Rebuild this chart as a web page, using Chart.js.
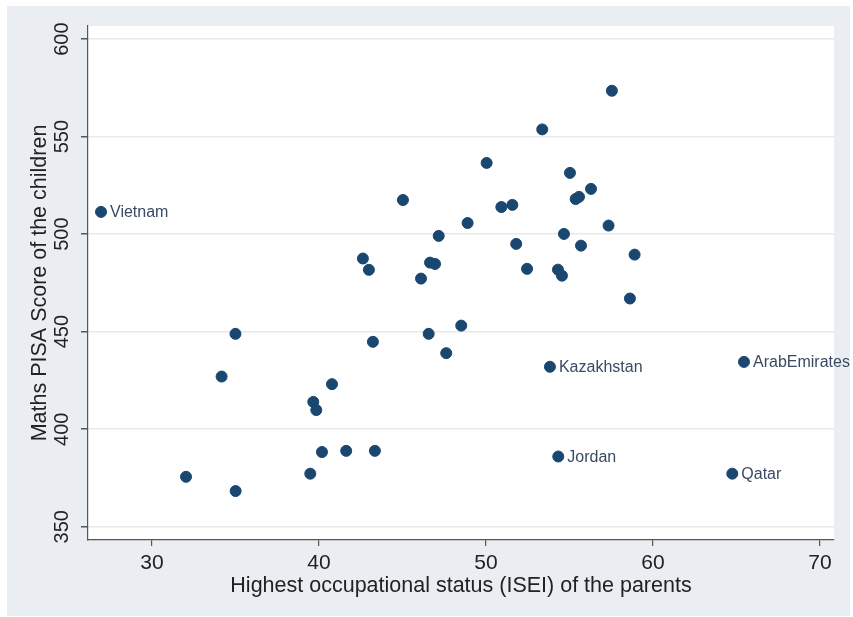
<!DOCTYPE html>
<html>
<head>
<meta charset="utf-8">
<script src="https://cdn.jsdelivr.net/npm/chart.js@4"></script>
<style>
  html, body { margin: 0; padding: 0; background: #ffffff; }
  #wrap { width: 853px; height: 617px; }
</style>
</head>
<body>
<div id="wrap"><canvas id="chart" width="853" height="617"></canvas></div>
<script>
// ISEI of parents (x) and maths PISA score (y), one entry per country
const iseiValues = [
    26.95, 32.04, 35.01, 35.00, 34.17, 43.23, 46.57, 47.62, 40.78, 39.66,
    39.84, 40.18, 41.63, 43.35, 39.48, 53.37, 50.04, 55.03, 45.03, 50.92,
    51.58, 48.90, 47.17, 51.81, 54.67, 42.63, 42.99, 46.65, 46.95, 46.11,
    52.46, 54.31, 54.55, 48.52, 56.29, 55.37, 55.57, 57.34, 55.69, 58.90,
    58.62, 57.54, 53.83, 65.45, 54.33, 64.75
];
const mathsScores = [
    511.4, 375.6, 368.3, 448.9, 427.0, 444.8, 448.9, 439.0, 423.1, 414.0,
    409.8, 388.3, 388.9, 388.9, 377.2, 553.7, 536.5, 531.4, 517.5, 513.9,
    515.0, 505.7, 499.1, 495.0, 500.1, 487.5, 481.7, 485.4, 484.7, 477.2,
    482.2, 481.8, 478.7, 453.1, 523.2, 518.0, 519.1, 504.4, 494.1, 489.5,
    467.0, 573.5, 432.0, 434.5, 386.0, 377.2
];
// only a few countries are labelled
const countryLabels = [
    "Vietnam", "", "", "", "", "", "", "", "", "",
    "", "", "", "", "", "", "", "", "", "",
    "", "", "", "", "", "", "", "", "", "",
    "", "", "", "", "", "", "", "", "", "",
    "", "", "Kazakhstan", "ArabEmirates", "Jordan", "Qatar"
];
const xTickStep = 10;
const yTickStep = 50;

const points = iseiValues.map((x, i) => ({ x: x, y: mathsScores[i] }));

const FONT = "'Liberation Sans', Arial, sans-serif";
const NAVY = "#1a476f";

/* background: white page, grey graph region, white plot region */
const backgroundPlugin = {
    id: "stataBackground",
    beforeDraw(chart) {
        const { ctx, chartArea } = chart;
        ctx.save();
        ctx.fillStyle = "#ffffff";
        ctx.fillRect(0, 0, chart.width, chart.height);
        ctx.fillStyle = "#eaeef2";
        ctx.fillRect(7, 6, 843, 610);
        ctx.fillStyle = "#ffffff";
        ctx.fillRect(chartArea.left, chartArea.top,
            chartArea.right - chartArea.left, chartArea.bottom - chartArea.top);
        ctx.restore();
    }
};

/* marker labels, placed to the right of the point */
const labelPlugin = {
    id: "pointLabels",
    afterDatasetsDraw(chart) {
        const { ctx } = chart;
        const meta = chart.getDatasetMeta(0);
        ctx.save();
        ctx.font = "16px " + FONT;
        ctx.fillStyle = "#3a4a62";
        ctx.textAlign = "left";
        ctx.textBaseline = "middle";
        meta.data.forEach((pt, i) => {
            if (countryLabels[i]) ctx.fillText(countryLabels[i], pt.x + 9, pt.y + 1);
        });
        ctx.restore();
    }
};

new Chart(document.getElementById("chart"), {
    type: "scatter",
    data: {
        datasets: [{
            data: points,
            backgroundColor: NAVY,
            borderColor: NAVY,
            pointRadius: 5.5,
            pointHoverRadius: 5.5
        }]
    },
    options: {
        responsive: false,
        animation: false,
        events: [],
        layout: { padding: { left: 7, top: 26, right: 19, bottom: 1 } },
        plugins: { legend: { display: false }, tooltip: { enabled: false } },
        scales: {
            x: {
                type: "linear",
                min: 26.17,
                max: 70.84,
                afterFit: s => { s.height = 76; },
                border: { color: "#555555", width: 1.2 },
                grid: { drawOnChartArea: false, drawTicks: true, tickLength: 6, tickColor: "#555555", lineWidth: 1.2 },
                ticks: {
                    stepSize: xTickStep,
                    includeBounds: false,
                    padding: 5,
                    maxRotation: 0,
                    color: "#222222",
                    font: { family: FONT, size: 21 }
                },
                title: {
                    display: true,
                    text: "Highest occupational status (ISEI) of the parents",
                    color: "#222222",
                    font: { family: FONT, size: 21.5 },
                    padding: { top: 0, bottom: 17 }
                }
            },
            y: {
                type: "linear",
                min: 343.2,
                max: 606.7,
                afterFit: s => { s.width = 81; },
                border: { color: "#555555", width: 1.2 },
                grid: { color: "#e9e9e9", lineWidth: 1.5, drawTicks: true, tickLength: 7, tickColor: "#555555" },
                ticks: {
                    stepSize: yTickStep,
                    includeBounds: false,
                    minRotation: 90,
                    maxRotation: 90,
                    crossAlign: "center",
                    padding: 2,
                    color: "#222222",
                    font: { family: FONT, size: 20 }
                },
                title: {
                    display: true,
                    text: "Maths PISA Score of the children",
                    color: "#222222",
                    font: { family: FONT, size: 21.5 },
                    padding: { top: 20, bottom: 0 }
                }
            }
        }
    },
    plugins: [backgroundPlugin, labelPlugin]
});
</script>
</body>
</html>
